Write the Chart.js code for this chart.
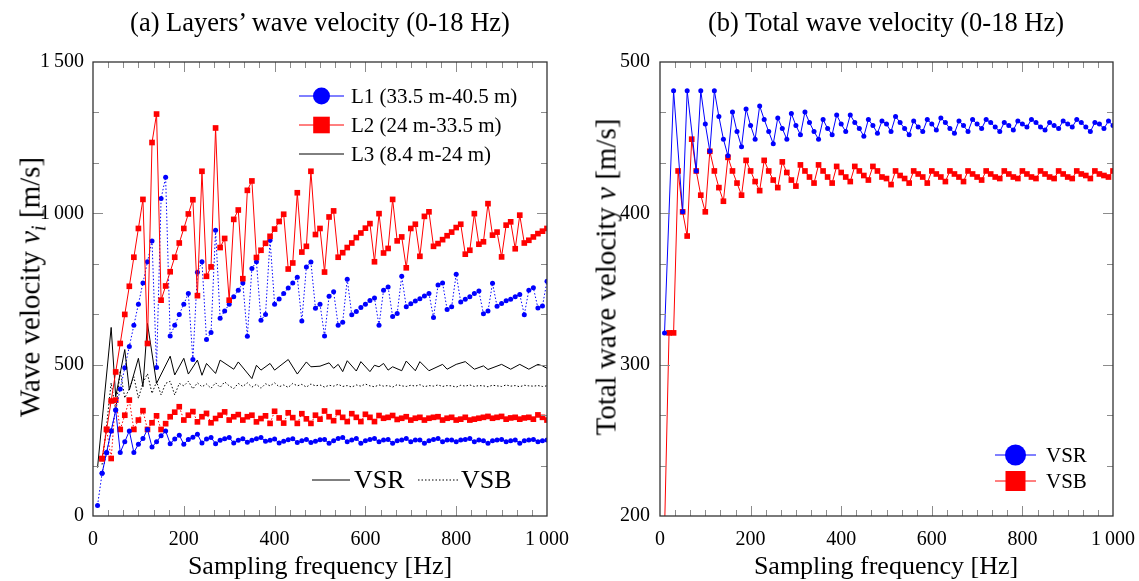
<!DOCTYPE html>
<html>
<head>
<meta charset="utf-8">
<script src="https://cdn.jsdelivr.net/npm/chart.js@4.4.1/dist/chart.umd.min.js"></script>
<style>
  body { margin: 0; width: 1139px; height: 581px; background: #fff; position: relative; overflow: hidden;
         font-family: "Liberation Serif", "DejaVu Serif", serif; }
  .box { position: absolute; top: 0; height: 581px; }
  .txt { position: absolute; white-space: nowrap; color: #000; transform: translate(-50%, -50%); }
  .rot { transform: translate(-50%, -50%) rotate(-90deg); }
  sub { font-size: 0.7em; vertical-align: -0.3em; line-height: 0; }
</style>
</head>
<body>
<div class="box" style="left:0;width:570px"><canvas id="left"></canvas></div>
<div class="box" style="left:570px;width:569px"><canvas id="right"></canvas></div>

<div class="txt" style="left:320px;top:22px;font-size:26.5px">(a) Layers’ wave velocity (0-18 Hz)</div>
<div class="txt" style="left:886px;top:22px;font-size:26.5px">(b) Total wave velocity (0-18 Hz)</div>
<div class="txt" style="left:320px;top:566px;font-size:26px">Sampling frequency [Hz]</div>
<div class="txt" style="left:886px;top:566px;font-size:26px">Sampling frequency [Hz]</div>
<div class="txt rot" style="left:30px;top:287px;font-size:29px">Wave velocity <i>v<sub>i</sub></i> [m/s]</div>
<div class="txt rot" style="left:606px;top:277px;font-size:29px">Total wave velocity <i>v</i> [m/s]</div>

<script>
// sampling frequencies [Hz]
const freq = [
  10, 20, 30, 40, 50, 60, 70, 80, 90, 100,
  110, 120, 130, 140, 150, 160, 170, 180, 190, 200,
  210, 220, 230, 240, 250, 260, 270, 280, 290, 300,
  310, 320, 330, 340, 350, 360, 370, 380, 390, 400,
  410, 420, 430, 440, 450, 460, 470, 480, 490, 500,
  510, 520, 530, 540, 550, 560, 570, 580, 590, 600,
  610, 620, 630, 640, 650, 660, 670, 680, 690, 700,
  710, 720, 730, 740, 750, 760, 770, 780, 790, 800,
  810, 820, 830, 840, 850, 860, 870, 880, 890, 900,
  910, 920, 930, 940, 950, 960, 970, 980, 990, 1000
];

// (a) layer velocities, m/s  (null = no sample)
const l1Vsr = [
  null, 141, 210, 281, 350, 210, 245, 281, 210, 237,
  256, 286, 228, 245, 265, 281, 239, 254, 267, 237,
  253, 260, 270, 241, 254, 259, 239, 250, 255, 259,
  241, 250, 255, 244, 250, 255, 259, 247, 250, 254,
  241, 247, 252, 255, 243, 249, 253, 243, 247, 252,
  253, 240, 249, 256, 259, 245, 251, 256, 240, 249,
  253, 256, 245, 251, 253, 240, 249, 251, 256, 245,
  251, 251, 240, 249, 253, 256, 245, 251, 251, 245,
  251, 253, 256, 245, 251, 249, 240, 249, 251, 253,
  245, 249, 251, 240, 249, 251, 253, 245, 249, 251
];
const l1Vsb = [
  35, 141, 209, 281, 350, 420, 490, 560, 630, 700,
  770, 840, 909, 491, 1049, 1119, 595, 630, 666, 700,
  735, 517, 805, 840, 583, 606, 944, 653, 677, 700,
  724, 746, 770, 594, 818, 840, 647, 666, 911, 700,
  717, 735, 753, 770, 789, 644, 823, 839, 686, 700,
  595, 726, 741, 630, 640, 782, 665, 676, 689, 700,
  712, 720, 630, 746, 757, 659, 669, 792, 691, 701,
  710, 718, 727, 735, 656, 763, 770, 682, 691, 799,
  707, 716, 724, 735, 743, 668, 677, 769, 693, 702,
  711, 716, 724, 732, 665, 746, 754, 687, 694, 776
];
const l2Vsr = [
  null, 189, 286, 380, 476, 570, 666, 759, 855, 950,
  1046, 570, 1234, 1328, 713, 760, 807, 855, 902, 950,
  998, 1045, 728, 1139, 792, 823, 1282, 887, 917, 713,
  980, 1011, 784, 1076, 1107, 854, 878, 901, 924, 948,
  973, 997, 816, 836, 1068, 872, 891, 1139, 930, 950,
  806, 988, 1008, 855, 870, 887, 902, 920, 935, 951,
  966, 840, 999, 869, 884, 1046, 909, 922, 820, 950,
  964, 858, 990, 1005, 891, 900, 913, 926, 938, 953,
  964, 865, 878, 999, 898, 906, 1032, 928, 938, 856,
  961, 972, 883, 994, 902, 911, 922, 933, 941, 950
];
const l2Vsb = [
  null, 190, 286, 190, 383, 286, 333, 383, 286, 317,
  348, 286, 308, 331, 286, 305, 328, 343, 361, 317,
  333, 345, 311, 328, 339, 308, 322, 333, 344, 317,
  328, 335, 317, 328, 333, 311, 322, 331, 306, 346,
  324, 307, 341, 325, 306, 338, 321, 306, 333, 320,
  347, 328, 315, 342, 326, 312, 338, 326, 312, 336,
  326, 312, 332, 323, 326, 332, 319, 323, 328, 317,
  323, 326, 317, 323, 326, 328, 317, 323, 326, 317,
  320, 326, 317, 320, 323, 326, 329, 323, 326, 329,
  320, 324, 326, 320, 324, 326, 320, 334, 326, 317
];
const l3Vsr = [
  160, null, null, 623, 394, null, 550, 416, null, 521,
  427, 636, null, 438, null, null, 528, 466, null, 521,
  469, null, 515, 465, 504, null, 471, 515, null, null,
  485, 509, null, null, 454, 498, 482, null, 504, 482,
  null, null, 517, null, 469, null, 509, 493, null, 495,
  null, 506, 488, 501, 477, 513, null, 479, 510, null,
  477, 498, 493, 504, 482, 493, null, 480, 512, null,
  480, 510, null, 480, null, null, 501, 485, null, 501,
  null, 510, null, 485, null, 496, 484, null, null, 501,
  null, 485, null, 501, null, 485, null, 501, 496, 488
];
const l3Vsb = [
  null, 170, 300, 440, 350, 480, 390, 420, 460, 389,
  440, 470, 405, 444, 400, 438, 445, 400, 438, 430,
  445, 420, 440, 427, 436, 422, 440, 425, 443, 430,
  421, 438, 428, 440, 426, 435, 422, 437, 430, 440,
  427, 433, 425, 438, 430, 435, 426, 436, 430, 433,
  426, 432, 429, 435, 428, 431, 426, 433, 429, 436,
  430, 427, 433, 429, 431, 426, 434, 430, 428, 432,
  429, 434, 427, 431, 429, 433, 428, 431, 430, 426,
  432, 429, 433, 428, 431, 430, 427, 432, 430, 428,
  433, 429, 431, 427, 432, 430, 429, 431, 428, 430
];

// (b) total velocities, m/s
const totVsr = [
  321, null, 481, null, 401, 481, null, 428, 481, 459,
  441, 481, 464, 449, 438, 467, 454, 444, 469, 458,
  449, 471, 462, 454, 446, 463, 456, 449, 466, 458,
  452, 467, 460, 454, 449, 462, 456, 452, 465, 459,
  454, 465, 460, 456, 451, 462, 458, 453, 461, 459,
  454, 464, 460, 456, 452, 461, 457, 454, 462, 459,
  455, 463, 460, 456, 453, 461, 458, 454, 462, 459,
  456, 462, 460, 457, 454, 460, 458, 455, 461, 459,
  457, 462, 460, 457, 455, 460, 458, 456, 461, 459,
  457, 462, 460, 457, 454, 460, 459, 456, 461, 458
];
const totVsb = [
  190, 321, 321, 428, 401, 385, 449, 428, 412, 401,
  441, 428, 417, 408, 437, 428, 420, 412, 435, 428,
  421, 415, 435, 428, 422, 417, 434, 427, 422, 418,
  432, 428, 424, 420, 432, 428, 424, 420, 431, 427,
  424, 421, 431, 428, 425, 422, 431, 428, 424, 423,
  419, 428, 425, 423, 420, 428, 426, 424, 420, 428,
  426, 424, 421, 428, 426, 424, 421, 428, 426, 424,
  422, 428, 426, 424, 423, 428, 426, 424, 423, 428,
  426, 424, 423, 428, 426, 424, 423, 428, 426, 424,
  423, 428, 426, 425, 423, 428, 426, 425, 424, 428
];

// tick labels
const xTicks = [0, 200, 400, 600, 800, 1000];
const leftYTicks = [0, 500, 1000, 1500];
const rightYTicks = [200, 300, 400, 500];

const FONT = '"Liberation Serif", "DejaVu Serif", serif';
const BLUE = '#0000ff', RED = '#ff0000', BLACK = '#000000';
const DOT = [1.5, 2];

function fmt(v) {
  if (v < 1000) return String(v);
  return Math.floor(v / 1000) + '\u2009' + String(v % 1000).padStart(3, '0');
}

function pts(vals) {
  return freq.map((f, i) => ({ x: f, y: vals[i] }));
}

function line(vals, color, dashed, marker) {
  return {
    data: pts(vals),
    borderColor: color,
    borderWidth: 1,
    borderDash: dashed ? DOT : [],
    pointStyle: marker === 'rect' ? 'rect' : 'circle',
    pointRadius: marker === 'rect' ? 4 : (marker ? 2.5 : 0),
    pointBackgroundColor: color,
    pointBorderWidth: 0,
    tension: 0,
    spanGaps: true
  };
}

function drawMarker(ctx, kind, x, y, s, color) {
  ctx.fillStyle = color;
  if (kind === 'circle') {
    ctx.beginPath();
    ctx.arc(x, y, s, 0, Math.PI * 2);
    ctx.fill();
  } else if (kind === 'square') {
    ctx.fillRect(x - s, y - s, 2 * s, 2 * s);
  }
}

// box, inner ticks on all sides, hand-placed legends
const frame = {
  id: 'frame',
  afterDatasetsDraw(chart, args, opts) {
    const ctx = chart.ctx, a = chart.chartArea;
    const sx = chart.scales.x, sy = chart.scales.y;
    ctx.save();
    ctx.lineWidth = 1;
    ctx.strokeStyle = '#8c8c8c';
    ctx.beginPath();
    const xs = opts.xStep / opts.xMinor;
    for (let k = 1; k * xs < sx.max - sx.min - 1e-6; k++) {
      const v = sx.min + k * xs;
      const len = k % opts.xMinor === 0 ? 10 : 6;
      const px = Math.round(sx.getPixelForValue(v)) + 0.5;
      ctx.moveTo(px, a.bottom); ctx.lineTo(px, a.bottom - len);
      ctx.moveTo(px, a.top); ctx.lineTo(px, a.top + len);
    }
    const ys = opts.yStep / opts.yMinor;
    for (let k = 1; k * ys < sy.max - sy.min - 1e-6; k++) {
      const v = sy.min + k * ys;
      const len = k % opts.yMinor === 0 ? 10 : 6;
      const py = Math.round(sy.getPixelForValue(v)) + 0.5;
      ctx.moveTo(a.left, py); ctx.lineTo(a.left + len, py);
      ctx.moveTo(a.right, py); ctx.lineTo(a.right - len, py);
    }
    ctx.stroke();

    ctx.strokeStyle = '#333';
    ctx.lineWidth = 1.3;
    ctx.strokeRect(a.left, a.top, a.right - a.left, a.bottom - a.top);

    for (const it of opts.legend) {
      ctx.strokeStyle = it.color;
      ctx.lineWidth = 1;
      ctx.setLineDash(it.dash || []);
      ctx.beginPath();
      ctx.moveTo(it.x0, it.y); ctx.lineTo(it.x1, it.y);
      ctx.stroke();
      ctx.setLineDash([]);
      if (it.marker) drawMarker(ctx, it.marker, (it.x0 + it.x1) / 2, it.y, it.size, it.color);
      ctx.fillStyle = '#000';
      ctx.font = it.font + 'px ' + FONT;
      ctx.textBaseline = 'middle';
      ctx.textAlign = 'left';
      ctx.fillText(it.label, it.tx, it.y + 1);
    }
    ctx.restore();
  }
};

function scales(yMin, yMax, yTicks, yWidth, yPad) {
  const tickFont = { family: FONT, size: 20 };
  return {
    x: {
      type: 'linear', min: 0, max: 1000,
      afterBuildTicks: s => { s.ticks = xTicks.map(v => ({ value: v })); },
      afterFit: s => { s.height = 65; s.paddingLeft = 0; s.paddingRight = 0; },
      grid: { display: false, drawTicks: false },
      border: { display: false },
      ticks: { padding: 12, color: '#000', font: tickFont, maxRotation: 0, callback: v => fmt(v) }
    },
    y: {
      type: 'linear', min: yMin, max: yMax,
      afterBuildTicks: s => { s.ticks = yTicks.map(v => ({ value: v })); },
      afterFit: s => { s.width = yWidth; s.paddingTop = 0; s.paddingBottom = 0; },
      grid: { display: false, drawTicks: false },
      border: { display: false },
      ticks: { padding: yPad, color: '#000', font: tickFont, callback: v => fmt(v) }
    }
  };
}

new Chart(document.getElementById('left'), {
  type: 'line',
  data: {
    datasets: [
      line(l2Vsr, RED, false, 'rect'),
      line(l1Vsr, BLUE, false, 'circle'),
      line(l3Vsr, BLACK, false, null),
      line(l1Vsb, BLUE, true, 'circle'),
      line(l2Vsb, RED, true, 'rect'),
      line(l3Vsb, BLACK, true, null)
    ]
  },
  options: {
    animation: false,
    responsive: true,
    maintainAspectRatio: false,
    layout: { padding: { left: 0, top: 62, right: 23, bottom: 0 } },
    scales: scales(0, 1500, leftYTicks, 93, 9),
    plugins: {
      legend: { display: false },
      tooltip: { enabled: false },
      frame: {
        xStep: 200, xMinor: 6, yStep: 500, yMinor: 3,
        legend: [
          { x0: 299, x1: 344, y: 96, color: BLUE, marker: 'circle', size: 8.5, label: 'L1 (33.5 m-40.5 m)', tx: 351, font: 21 },
          { x0: 299, x1: 344, y: 125, color: RED, marker: 'square', size: 8.3, label: 'L2 (24 m-33.5 m)', tx: 351, font: 21 },
          { x0: 299, x1: 344, y: 154, color: BLACK, label: 'L3 (8.4 m-24 m)', tx: 351, font: 21 },
          { x0: 312, x1: 350, y: 480, color: BLACK, label: 'VSR', tx: 354, font: 26 },
          { x0: 418, x1: 458, y: 480, color: BLACK, dash: DOT, label: 'VSB', tx: 461, font: 26 }
        ]
      }
    }
  },
  plugins: [frame]
});

new Chart(document.getElementById('right'), {
  type: 'line',
  data: {
    datasets: [
      line(totVsr, BLUE, false, 'circle'),
      line(totVsb, RED, false, 'rect')
    ]
  },
  options: {
    animation: false,
    responsive: true,
    maintainAspectRatio: false,
    layout: { padding: { left: 0, top: 62, right: 26, bottom: 0 } },
    scales: scales(200, 500, rightYTicks, 90, 10),
    plugins: {
      legend: { display: false },
      tooltip: { enabled: false },
      frame: {
        xStep: 200, xMinor: 6, yStep: 100, yMinor: 3,
        legend: [
          { x0: 425, x1: 466, y: 455, color: BLUE, marker: 'circle', size: 10.5, label: 'VSR', tx: 476, font: 21 },
          { x0: 425, x1: 466, y: 481, color: RED, marker: 'square', size: 10, label: 'VSB', tx: 476, font: 21 }
        ]
      }
    }
  },
  plugins: [frame]
});
</script>
</body>
</html>
